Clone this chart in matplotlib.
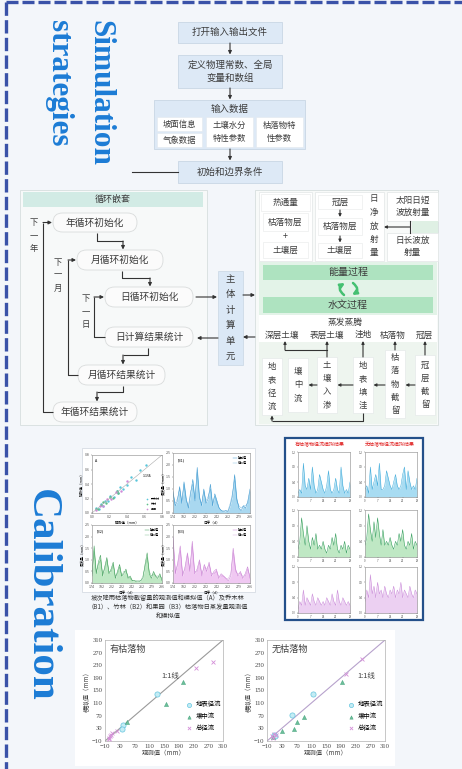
import matplotlib
matplotlib.use('Agg')
import matplotlib.pyplot as plt
from matplotlib.patches import FancyBboxPatch, Rectangle, FancyArrowPatch
import numpy as np

plt.rcParams['font.family'] = ['Noto Sans CJK SC', 'DejaVu Sans']

# ---------------- text content ----------------
title_sim = ['Simulation', 'strategies']
title_cal = 'Calibration'
flow_steps = ['打开输入输出文件', '定义物理常数、全局\n变量和数组', '输入数据', '初始和边界条件']
input_items = ['坡面信息', '气象数据', '土壤水分\n特性参数', '枯落物特\n性参数']
loop_title = '循环嵌套'
loop_nodes = ['年循环初始化', '月循环初始化', '日循环初始化', '日计算结果统计', '月循环结果统计', '年循环结果统计']
loop_back = ['下一年', '下一月', '下一日']
core_unit = '主体计算单元'
heat_items = ['热通量', '枯落物层', '+', '土壤层']
rad_chain = ['冠层', '枯落物层', '土壤层']
net_rad = '日净放射量'
rad_sources = ['太阳日短\n波放射量', '日长波放\n射量']
process_bars = ['能量过程', '水文过程']
evap = '蒸发蒸腾'
evap_layers = ['深层土壤', '表层土壤', '洼地', '枯落物', '冠层']
water_boxes = ['地表径流', '壤中流', '土壤入渗', '地表填洼', '枯落物截留', '冠层截留']
fig1_caption = ['坡次降雨枯落物截留量的观测值和模拟值（A）及乔木林',
                '（B1）、竹林（B2）和果园（B3）枯落物日蒸发量观测值',
                '和模拟值']
fig2_titles = ['有枯落物径流模拟结果', '无枯落物径流模拟结果']

# ---------------- data: interception scatter (A) ----------------
A_tree_obs = [0.05, 0.08, 0.10, 0.12, 0.15, 0.18, 0.20, 0.25, 0.28, 0.30, 0.32, 0.35, 0.40, 0.45, 0.50, 0.55, 0.62]
A_tree_sim = [0.07, 0.05, 0.12, 0.10, 0.17, 0.16, 0.24, 0.22, 0.30, 0.27, 0.36, 0.33, 0.38, 0.50, 0.46, 0.60, 0.66]
A_bamboo_obs = [0.04, 0.07, 0.10, 0.13, 0.16, 0.20, 0.24, 0.28, 0.30]
A_bamboo_sim = [0.06, 0.05, 0.11, 0.15, 0.14, 0.22, 0.21, 0.30, 0.27]
A_orchard_obs = [0.05, 0.09, 0.12, 0.17, 0.22, 0.27, 0.33, 0.40]
A_orchard_sim = [0.04, 0.10, 0.10, 0.19, 0.20, 0.29, 0.30, 0.44]
A_ticks = [0.0, 0.2, 0.4, 0.6, 0.8]

# ---------------- data: daily litter evaporation (B1-B3) ----------------
B_day_ticks = ['174', '182', '202', '222', '242', '262', '279', '286']
B1_obs = [0.9, 0.3, 0.5, 1.1, 0.4, 1.3, 0.6, 0.2, 0.8, 1.4, 0.5, 1.9, 0.7, 0.3, 1.0, 0.4, 0.6, 1.2,
          0.3, 0.8, 0.5, 0.2, 0.1, 0.05, 0.1, 0.05, 0.3, 0.7, 1.6, 0.6, 0.2, 0.1, 0.3, 0.2, 0.5, 1.0]
B1_sim = [0.8, 0.4, 0.6, 1.0, 0.5, 1.2, 0.5, 0.3, 0.9, 1.2, 0.6, 1.7, 0.6, 0.4, 0.9, 0.5, 0.7, 1.0,
          0.4, 0.7, 0.4, 0.2, 0.1, 0.1, 0.1, 0.1, 0.4, 0.8, 1.4, 0.5, 0.3, 0.2, 0.3, 0.3, 0.4, 0.9]
B2_obs = [0.3, 1.6, 0.4, 0.9, 1.2, 0.3, 0.7, 1.1, 0.4, 0.6, 0.9, 0.2, 0.5, 0.8, 0.3, 0.4, 0.6, 0.2,
          0.3, 0.1, 0.1, 0.05, 0.05, 0.1, 0.2, 0.8, 1.3, 0.4, 0.2, 0.5, 0.3, 0.2, 0.4, 0.1]
B2_sim = [0.4, 1.4, 0.5, 0.8, 1.0, 0.4, 0.6, 1.0, 0.5, 0.5, 0.8, 0.3, 0.4, 0.7, 0.3, 0.5, 0.5, 0.3,
          0.2, 0.1, 0.1, 0.1, 0.1, 0.1, 0.3, 0.7, 1.1, 0.5, 0.3, 0.4, 0.3, 0.3, 0.3, 0.2]
B3_obs = [2.0, 0.4, 0.9, 1.6, 0.3, 0.7, 1.3, 0.5, 1.8, 0.4, 0.6, 1.0, 0.3, 0.8, 0.5, 0.9, 0.3, 0.5,
          0.6, 0.2, 0.4, 0.3, 0.2, 0.1, 0.3, 1.5, 0.6, 0.3, 0.5, 0.2, 0.4, 0.7, 0.2]
B3_sim = [1.8, 0.5, 0.8, 1.4, 0.4, 0.6, 1.2, 0.6, 1.6, 0.5, 0.5, 0.9, 0.4, 0.7, 0.6, 0.8, 0.4, 0.4,
          0.5, 0.3, 0.3, 0.3, 0.2, 0.2, 0.4, 1.3, 0.5, 0.4, 0.4, 0.3, 0.3, 0.6, 0.3]

# ---------------- data: runoff process panels ----------------
R_with_surface = [0.1, 0.2, 0.1, 0.9, 0.3, 0.2, 0.5, 0.2, 0.8, 0.3, 0.1, 0.2, 0.6, 0.4, 0.2,
                  0.1, 0.3, 0.7, 0.2, 0.1, 0.2, 0.5, 0.2, 0.1, 0.8, 0.3, 0.1, 0.2, 0.1, 0.4]
R_without_surface = [0.2, 0.3, 0.1, 0.8, 0.2, 0.4, 0.6, 0.3, 0.9, 0.2, 0.2, 0.3, 0.7, 0.5, 0.3,
                     0.2, 0.4, 0.6, 0.3, 0.2, 0.3, 0.6, 0.8, 0.2, 0.7, 0.4, 0.2, 0.3, 0.2, 0.5]
R_with_sub = [0.2, 0.4, 1.0, 0.6, 0.3, 0.8, 0.4, 0.2, 0.5, 0.3, 0.6, 0.2, 0.3, 0.2, 0.4,
              0.2, 0.1, 0.3, 0.2, 0.5, 0.3, 0.6, 0.2, 0.1, 0.3, 0.2, 0.4, 0.1, 0.3, 0.2]
R_without_sub = [0.3, 0.5, 1.1, 0.7, 0.4, 0.9, 0.5, 1.0, 0.6, 0.3, 0.7, 0.3, 0.4, 0.3, 0.5,
                 0.3, 0.2, 0.4, 0.3, 0.6, 0.4, 0.7, 0.3, 0.2, 0.4, 0.3, 0.6, 0.2, 0.4, 0.3]
R_with_total = [0.1, 0.3, 0.2, 0.6, 0.2, 0.4, 0.3, 0.2, 0.5, 0.3, 0.2, 0.4, 0.3, 0.2, 0.3,
                0.2, 0.4, 0.3, 0.2, 0.5, 0.3, 0.2, 0.6, 0.3, 0.2, 0.4, 0.3, 0.2, 0.3, 0.2]
R_without_total = [0.3, 0.6, 0.4, 1.0, 0.5, 0.7, 0.4, 0.8, 0.5, 0.6, 0.4, 0.7, 0.5, 0.4, 0.6,
                   0.5, 0.7, 0.4, 0.6, 0.5, 0.8, 0.4, 0.6, 0.5, 0.4, 0.7, 0.5, 0.4, 0.6, 0.5]

# ---------------- data: observed vs simulated runoff (mm) ----------------
axis_ticks = [-10, 30, 70, 110, 150, 190, 230, 270, 310]
with_litter = {
    'surface': ([130, 40, 35], [138, 41, 27]),
    'subsurface': ([202, 155, 49], [176, 107, 51]),
    'total': ([238, 283, 22, 5, 2, 8, 0, 3], [220, 241, 22, 10, 0, 15, -3, 5]),
}
without_litter = {
    'surface': ([116, 58, 8, 12], [138, 72, 10, 5]),
    'subsurface': ([193, 71, 89, 62, 31, 5], [176, 51, 65, 28, 22, 2]),
    'total': ([205, 247, 3, 10, 15, 6], [201, 249, 5, 12, 8, -2]),
}
series_labels = ['地表径流', '壤中流', '总径流']

# ---------------- figure ----------------
W, H = 462, 769
BG = '#f3f6fa'
TXT = '#3c3c3c'
LINE = '#333333'
BLUE_TITLE = '#1c7cd5'

fig = plt.figure(figsize=(W / 100, H / 100), dpi=100)
fig.patch.set_facecolor(BG)
ax = fig.add_axes([0, 0, 1, 1])
ax.set_xlim(0, W)
ax.set_ylim(H, 0)
ax.axis('off')


def px_axes(x0, y0, x1, y1):
    return fig.add_axes([x0 / W, 1 - y1 / H, (x1 - x0) / W, (y1 - y0) / H])


def box(x0, y0, x1, y1, fc, ec='none', lw=0.6, r=0, z=2):
    if r > 0:
        p = FancyBboxPatch((x0, y0), x1 - x0, y1 - y0,
                           boxstyle=f'round,pad=0,rounding_size={r}',
                           fc=fc, ec=ec, lw=lw, zorder=z)
    else:
        p = Rectangle((x0, y0), x1 - x0, y1 - y0, fc=fc, ec=ec, lw=lw, zorder=z)
    ax.add_patch(p)


def label(x, y, s, fs=6.5, color=TXT, z=6, **kw):
    ax.text(x, y, s, fontsize=fs, color=color, ha='center', va='center',
            zorder=z, linespacing=1.5, **kw)


def vlabel(x, yc, s, fs=6.0, sp=13.5, color=TXT):
    n = len(s)
    y0 = yc - (n - 1) * sp / 2
    for i, ch in enumerate(s):
        label(x, y0 + i * sp, ch, fs=fs, color=color)


def path_arrow(pts, color=LINE, lw=0.8, ms=5, head=True):
    xs = [p[0] for p in pts]
    ys = [p[1] for p in pts]
    if head:
        if len(pts) > 2:
            ax.plot(xs[:-1], ys[:-1], color=color, lw=lw, zorder=4, solid_capstyle='butt')
        ax.annotate('', xy=pts[-1], xytext=pts[-2],
                    arrowprops=dict(arrowstyle='-|>', color=color, lw=lw,
                                    mutation_scale=ms, shrinkA=0, shrinkB=0),
                    zorder=4)
    else:
        ax.plot(xs, ys, color=color, lw=lw, zorder=4)


# dashed frame (top and left)
ax.plot([6, W], [1.5, 1.5], color='#3a52a8', lw=2.4, ls=(0, (3.6, 1.2)), solid_capstyle='butt', zorder=10)
ax.plot([6, 6], [1.5, H], color='#3a52a8', lw=2.4, ls=(0, (4.0, 1.3)), solid_capstyle='butt', zorder=10)

# section titles
ax.text(100, 20, title_sim[0], rotation=270, ha='center', va='top', fontsize=22.5,
        fontweight='bold', family='Liberation Serif', color=BLUE_TITLE, zorder=6)
ax.text(58, 20, title_sim[1], rotation=270, ha='center', va='top', fontsize=22.5,
        fontweight='bold', family='Liberation Serif', color=BLUE_TITLE, zorder=6)
ax.text(41, 595, title_cal, rotation=270, ha='center', va='center', fontsize=31,
        fontweight='bold', family='Liberation Serif', color=BLUE_TITLE, zorder=6)

# ---------------- top flowchart ----------------
FC_BOX = '#dde9f6'
EC_BOX = '#c9d6e4'
box(178, 22, 282, 43, FC_BOX, EC_BOX)
label(230, 32.5, flow_steps[0], fs=6.8)
path_arrow([(230, 43), (230, 54.5)])
box(178, 55, 282, 88, FC_BOX, EC_BOX)
label(230, 71.5, flow_steps[1], fs=6.8)
path_arrow([(230, 88), (230, 99.5)])
box(154, 100, 305, 149, FC_BOX, EC_BOX)
label(230, 109.5, flow_steps[2], fs=6.8)
box(157, 117, 202, 131, 'white', '#e3e8ee', lw=0.4, z=3)
box(157, 133, 202, 147, 'white', '#e3e8ee', lw=0.4, z=3)
box(206, 117, 253, 147, 'white', '#e3e8ee', lw=0.4, z=3)
box(256, 117, 303, 147, 'white', '#e3e8ee', lw=0.4, z=3)
label(179.5, 124, input_items[0], fs=6.0)
label(179.5, 140, input_items[1], fs=6.0)
label(229.5, 132, input_items[2], fs=6.0)
label(279.5, 132, input_items[3], fs=6.0)
path_arrow([(230, 149), (230, 160.5)])
box(178, 161, 282, 183, FC_BOX, EC_BOX)
label(230, 172, flow_steps[3], fs=6.8)
ax.plot([132, 178], [172, 172], color=LINE, lw=0.8, zorder=4)

# ---------------- nested loop panel ----------------
box(20, 190, 207, 425, '#f7f9f9', '#d6dede', lw=0.6, z=1)
box(23, 192, 203, 207, '#d2ebe5', 'none', z=2)
label(113, 199.5, loop_title, fs=6.5)

pills = [(53, 213, 137, 232), (77, 250, 163, 270), (105, 287, 193, 307),
         (105, 327, 193, 347), (78, 365, 165, 385), (53, 402, 137, 422)]
for (x0, y0, x1, y1), s in zip(pills, loop_nodes):
    box(x0, y0, x1, y1, '#fbfbfb', '#d9dcdc', lw=0.6, r=9.5, z=3)
    label((x0 + x1) / 2, (y0 + y1) / 2, s, fs=7.0)

vlabel(34, 236, loop_back[0], fs=6.0, sp=13)
vlabel(58, 275, loop_back[1], fs=6.0, sp=13)
vlabel(86, 312, loop_back[2], fs=6.0, sp=13)

# loop-back lines
path_arrow([(53, 412), (43, 412), (43, 222.5), (52, 222.5)])
path_arrow([(78, 375), (68, 375), (68, 260), (76, 260)])
path_arrow([(105, 337), (94, 337), (94, 297), (104, 297)])
# forward connectors
path_arrow([(97, 233), (97, 241), (123, 241), (123, 249.5)])
path_arrow([(122, 271), (122, 278), (150, 278), (150, 286.5)])
path_arrow([(148, 348), (148, 355), (123, 355), (123, 364.5)])
path_arrow([(123, 386), (123, 392), (97, 392), (97, 401.5)])

# core computing unit
path_arrow([(196, 297), (217, 297)])
path_arrow([(218, 338), (197, 338)])
box(218, 271, 243, 365, '#dbe8f6', '#c9d6e4', lw=0.5)
vlabel(230.5, 318, core_unit, fs=6.8, sp=15.5)
path_arrow([(243, 295), (255, 295)])
path_arrow([(255, 337), (243, 337)])

# ---------------- process panel ----------------
box(255, 190, 438, 425, '#f8faf9', '#d6dede', lw=0.6, z=1)
# energy inputs
box(259, 192, 312, 261, 'white', '#e2e6e6', lw=0.5, z=2)
box(261, 194, 310, 211, 'white', '#e6e8e8', lw=0.4, z=3)
label(285.5, 202.5, heat_items[0], fs=6.2)
box(263, 213, 308, 231, 'white', '#e6e8e8', lw=0.4, z=3)
label(285.5, 222, heat_items[1], fs=6.2)
label(285.5, 236.5, heat_items[2], fs=6.5)
box(263, 242, 308, 258, 'white', '#e6e8e8', lw=0.4, z=3)
label(285.5, 250, heat_items[3], fs=6.2)

box(315, 192, 384, 261, 'white', '#e2e6e6', lw=0.5, z=2)
box(318, 195, 362, 209, 'white', '#e6e8e8', lw=0.4, z=3)
label(340, 202, rad_chain[0], fs=6.2)
path_arrow([(340, 210), (340, 217)], ms=4)
box(318, 218, 362, 235, 'white', '#e6e8e8', lw=0.4, z=3)
label(340, 226.5, rad_chain[1], fs=6.2)
path_arrow([(340, 236), (340, 242.5)], ms=4)
box(318, 243, 362, 258, 'white', '#e6e8e8', lw=0.4, z=3)
label(340, 250.5, rad_chain[2], fs=6.2)
vlabel(374, 226, net_rad, fs=6.2, sp=13.5)

box(387, 192, 438, 221, 'white', '#e2e6e6', lw=0.5, z=2)
label(412.5, 206.5, rad_sources[0], fs=6.2)
box(412, 221, 438, 233, '#dff0e4', 'none', z=2)
box(387, 233, 438, 261, 'white', '#e2e6e6', lw=0.5, z=2)
label(412.5, 246.5, rad_sources[1], fs=6.2)
ax.plot([410, 410], [221, 233], color=LINE, lw=0.8, zorder=4)
path_arrow([(410, 227), (384, 227)], ms=4)

# energy / hydrology coupling
box(259, 262, 437, 315, '#e3f3e8', 'none', z=2)
box(263, 265, 433, 280, '#aee3c0', 'none', z=3)
label(348, 272.5, process_bars[0], fs=7.2)
box(263, 297, 433, 313, '#aee3c0', 'none', z=3)
label(348, 305, process_bars[1], fs=7.2)
# exchange symbol: two curved arrows forming a loop
for a, b in [((344, 295), (345, 283)), ((353, 283), (352, 295))]:
    ax.add_patch(FancyArrowPatch(a, b, connectionstyle='arc3,rad=-0.7',
                                 arrowstyle='-|>', mutation_scale=6, lw=1.8,
                                 color='#45c072', zorder=5,
                                 shrinkA=0, shrinkB=0))

box(259, 315, 437, 342, 'white', 'none', z=2)
label(345, 322.5, evap, fs=6.3)
for x, s in zip([282, 327, 363, 393, 424], evap_layers):
    label(x, 335, s, fs=6.2)

box(259, 342, 437, 424, '#eef5ef', 'none', z=2)
lower = [(262, 358, 282, 415), (288, 358, 308, 412), (317, 357, 337, 413),
         (353, 357, 373, 413), (385, 350, 405, 418), (415, 355, 435, 415)]
for (x0, y0, x1, y1), s in zip(lower, water_boxes):
    box(x0, y0, x1, y1, 'white', '#e2e6e6', lw=0.4, z=3)
    vlabel((x0 + x1) / 2, (y0 + y1) / 2, s, fs=6.0, sp=13.2)

path_arrow([(425, 355), (425, 341)], ms=4)
path_arrow([(395, 350), (395, 341)], ms=4)
path_arrow([(363, 357), (363, 341)], ms=4)
path_arrow([(327, 357), (327, 341)], ms=4)
ax.plot([285, 327], [350, 350], color=LINE, lw=0.8, zorder=4)
path_arrow([(285, 350), (285, 341)], ms=4)
for xa, xb in [(415, 405.5), (385, 373.5), (353, 337.5), (317, 308.5)]:
    path_arrow([(xa, 385), (xb, 385)], ms=4)
path_arrow([(363, 413), (363, 421), (272, 421), (272, 415.5)], ms=4)

# ---------------- calibration figure 1 ----------------
box(82, 448, 255, 592, 'white', '#cfd6de', lw=0.5, z=2)
for i, s in enumerate(fig1_caption):
    label(168, 598 + i * 9, s, fs=4.5, color='#333333')

SMALL = 2.6


def style_small(a):
    a.set_facecolor('white')
    for sp in a.spines.values():
        sp.set_color('#888888')
        sp.set_linewidth(0.4)
    a.tick_params(labelsize=SMALL, length=1, width=0.3, pad=0.8, colors='#555555')


axA = px_axes(92, 455, 162, 513)
style_small(axA)
axA.plot([0, 0.8], [0, 0.8], color='#aaaaaa', lw=0.4)
axA.scatter(A_tree_obs, A_tree_sim, s=3, c='#59c6da', lw=0)
axA.scatter(A_bamboo_obs, A_bamboo_sim, s=3, c='#5fbf8a', lw=0)
axA.scatter(A_orchard_obs, A_orchard_sim, s=3, c='#d08ad8', lw=0)
axA.set_xlim(0, 0.8)
axA.set_ylim(0, 0.8)
axA.set_xticks(A_ticks)
axA.set_yticks(A_ticks)
axA.set_xlabel('观测值（mm）', fontsize=SMALL, labelpad=0.5)
axA.set_ylabel('模拟值（mm）', fontsize=SMALL, labelpad=0.5)
axA.text(0.04, 0.93, 'A', transform=axA.transAxes, fontsize=SMALL, va='top')
axA.text(0.72, 0.62, '1:1线', transform=axA.transAxes, fontsize=SMALL)
axA.legend(handles=axA.collections, labels=['乔木林', '竹林', '果园'],
           fontsize=2.2, frameon=False, loc='lower right', markerscale=0.7,
           handletextpad=0.2, borderaxespad=0.3, labelspacing=0.3)

for (x0, y0, x1, y1), obs, sim, fc, lc, tag in [
        ((173, 453, 250, 513), B1_obs, B1_sim, '#a9d8f0', '#3c98d0', '(B1)'),
        ((92, 525, 162, 583), B2_obs, B2_sim, '#bfe8c4', '#3c9c56', '(B2)'),
        ((173, 525, 250, 583), B3_obs, B3_sim, '#f0c8f2', '#c77fd2', '(B3)')]:
    a = px_axes(x0, y0, x1, y1)
    style_small(a)
    xs = np.arange(len(obs))
    a.fill_between(xs, 0, obs, color=fc, lw=0)
    a.plot(xs, obs, color=lc, lw=0.35)
    a.plot(xs, sim, color=lc, lw=0.35, alpha=0.6)
    a.set_xlim(0, len(obs) - 1)
    a.set_ylim(0, 2.5)
    a.set_xticks(np.linspace(0, len(obs) - 1, len(B_day_ticks)))
    a.set_xticklabels(B_day_ticks)
    a.set_yticks([0, 0.5, 1.0, 1.5, 2.0, 2.5])
    a.set_xlabel('日序（d）', fontsize=SMALL, labelpad=0.5)
    a.set_ylabel('蒸发量（mm）', fontsize=SMALL, labelpad=0.5)
    a.text(0.06, 0.92, tag, transform=a.transAxes, fontsize=SMALL, va='top')
    a.legend(handles=a.lines, labels=['观测值', '模拟值'], fontsize=2.2, frameon=False,
             loc='upper right', handlelength=1.5, handletextpad=0.3, labelspacing=0.3)

# ---------------- calibration figure 2 ----------------
box(285, 438, 423, 620, 'white', '#24508a', lw=1.6, z=2)
label(320, 445, fig2_titles[0], fs=3.6, color='#e02020')
label(390, 445, fig2_titles[1], fs=3.6, color='#e02020')
panels2 = [
    ((298, 452, 350, 497), R_with_surface, '#a8dcf2', '#3aa8d8'),
    ((365, 452, 417, 497), R_without_surface, '#a8dcf2', '#3aa8d8'),
    ((298, 510, 350, 557), R_with_sub, '#bfe8c4', '#2f9a5a'),
    ((365, 510, 417, 557), R_without_sub, '#bfe8c4', '#2f9a5a'),
    ((298, 567, 350, 613), R_with_total, '#ecd0f2', '#c98ad8'),
    ((365, 567, 417, 613), R_without_total, '#ecd0f2', '#c98ad8'),
]
for (x0, y0, x1, y1), vals, fc, lc in panels2:
    a = px_axes(x0, y0, x1, y1)
    style_small(a)
    a.tick_params(labelsize=2.0)
    xs = np.arange(len(vals))
    a.fill_between(xs, 0, vals, color=fc, lw=0)
    a.plot(xs, vals, color=lc, lw=0.35)
    a.set_xlim(0, len(vals) - 1)
    a.set_ylim(0, 1.2)
    a.set_xticks([0, 7, 14, 21, 29])
    a.set_yticks([0, 0.4, 0.8, 1.2])

# ---------------- observed vs simulated runoff ----------------
box(75, 630, 395, 766, 'white', 'none', z=2)
marker_style = {
    'surface': dict(marker='o', s=14, facecolors='#c4ecf4', edgecolors='#66c6e0', linewidths=0.5),
    'subsurface': dict(marker='^', s=9, facecolors='#6cbf9a', edgecolors='#3a9c74', linewidths=0.3),
    'total': dict(marker='x', s=8, c='#d48fd8', linewidths=0.6),
}
for (x0, x1), data, title, lcol in [((105, 223), with_litter, '有枯落物', '#9a9a9a'),
                                    ((267, 385), without_litter, '无枯落物', '#b7a2cc')]:
    a = px_axes(x0, 640, x1, 741)
    a.set_facecolor('white')
    for sp in a.spines.values():
        sp.set_color('#b0b0b0')
        sp.set_linewidth(0.5)
    a.plot([-10, 310], [-10, 310], color=lcol, lw=0.8, zorder=1)
    handles = []
    for key in ['surface', 'subsurface', 'total']:
        obs, sim = data[key]
        handles.append(a.scatter(obs, sim, zorder=3, **marker_style[key]))
    a.set_xlim(-10, 310)
    a.set_ylim(-10, 310)
    a.set_xticks(axis_ticks)
    a.set_yticks(axis_ticks)
    a.tick_params(length=0, pad=2, labelsize=4.8, colors='#444444')
    for t in a.get_xticklabels() + a.get_yticklabels():
        t.set_family('Liberation Serif')
    a.set_xlabel('观测值（mm）', fontsize=4.6, labelpad=0.5, color='#444444')
    a.set_ylabel('模拟值（mm）', fontsize=4.6, labelpad=1, color='#444444')
    a.text(0.04, 0.95, title, transform=a.transAxes, fontsize=6.6, va='top', color='#444444')
    a.text(0.55 if title == '有枯落物' else 0.84, 0.62, '1:1线', transform=a.transAxes,
           fontsize=5.4, color='#444444', ha='center')
    a.legend(handles, series_labels, fontsize=4.6, frameon=False, loc='lower right',
             bbox_to_anchor=(1.02, 0.05), handletextpad=0.1, labelspacing=0.6,
             markerscale=0.8, borderaxespad=0.2)

fig.savefig('out.png', dpi=100, facecolor=BG)
